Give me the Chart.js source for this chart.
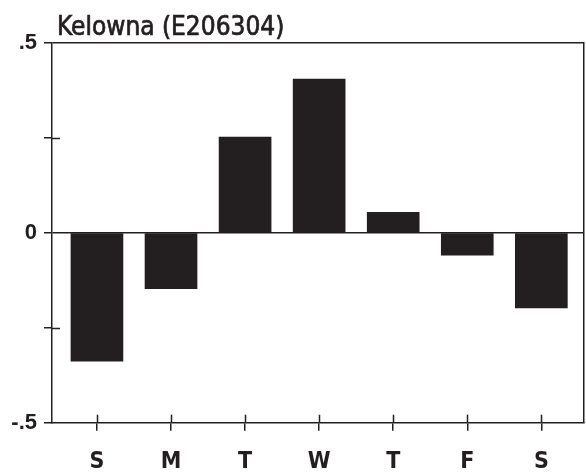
<!DOCTYPE html>
<html>
<head>
<meta charset="utf-8">
<script src="https://cdn.jsdelivr.net/npm/chart.js@4.4.1/dist/chart.umd.min.js"></script>
<style>
html,body{margin:0;padding:0;background:#fff;}
</style>
</head>
<body>
<canvas id="chart" width="586" height="476"></canvas>
<script>
// data
const chartTitle = "Kelowna (E206304)";
const days = ["S", "M", "T", "W", "T", "F", "S"];
const values = [-0.338, -0.147, 0.252, 0.405, 0.054, -0.059, -0.198];
const yTickValues = [-0.5, -0.25, 0, 0.25, 0.5];
const yTickLabels = ["-.5", "", "0", "", ".5"];

const ink = "#231f20";

// little ticks that poke into the plot, plus the title
const extras = {
  id: "extras",
  afterDraw(chart) {
    const c = chart.ctx;
    const area = chart.chartArea;
    const xs = chart.scales.x;
    const ys = chart.scales.y;
    c.save();
    c.strokeStyle = ink;
    c.lineWidth = 1.5;
    c.beginPath();
    yTickValues.forEach(function (v) {
      if (v === 0.25 || v === -0.25) {
        const py = Math.round(ys.getPixelForValue(v)) + 0.5;
        c.moveTo(area.left, py);
        c.lineTo(area.left + 8, py);
      }
    });
    days.forEach(function (d, i) {
      const px = Math.round(xs.getPixelForValue(i)) + 0.5;
      c.moveTo(px, area.bottom);
      c.lineTo(px, area.bottom - 8);
    });
    c.stroke();
    c.fillStyle = ink;
    c.font = "26px 'DejaVu Sans Condensed', 'DejaVu Sans', sans-serif";
    c.textBaseline = "alphabetic";
    c.textAlign = "left";
    c.fillText(chartTitle, 57, 35);
    // a touch heavier, like the printed title
    c.lineWidth = 0.7;
    c.strokeText(chartTitle, 57, 35);
    c.restore();
  }
};

const points = values.map(function (v, i) { return { x: i, y: v }; });

new Chart(document.getElementById("chart"), {
  type: "bar",
  data: {
    datasets: [{
      data: points,
      backgroundColor: ink,
      borderWidth: 0,
      barThickness: 52
    }]
  },
  options: {
    responsive: false,
    animation: false,
    devicePixelRatio: 1,
    layout: { padding: { top: 43, left: 0, right: 0, bottom: 0 } },
    plugins: { legend: { display: false }, tooltip: { enabled: false } },
    scales: {
      x: {
        type: "linear",
        offset: false,
        min: -0.607,
        max: 6.576,
        afterBuildTicks: function (s) {
          s.ticks = days.map(function (d, i) { return { value: i }; });
        },
        afterFit: function (s) { s.height = 53.3; },
        ticks: {
          callback: function (v) { return days[v]; },
          color: ink,
          font: { family: "'Liberation Sans Narrow', 'DejaVu Sans Condensed', sans-serif", size: 23, weight: "bold" },
          padding: 18,
          maxRotation: 0
        },
        grid: { offset: false, drawOnChartArea: false, tickLength: 8, color: ink, lineWidth: 1.5 },
        border: { color: ink, width: 1.5 }
      },
      y: {
        min: -0.5,
        max: 0.5,
        afterBuildTicks: function (s) {
          s.ticks = yTickValues.map(function (v) { return { value: v }; });
        },
        afterFit: function (s) { s.width = 52; },
        ticks: {
          callback: function (v) { return yTickLabels[yTickValues.indexOf(v)]; },
          color: ink,
          font: { family: "'Liberation Sans', Arial, sans-serif", size: 22, weight: "bold" },
          padding: 7
        },
        grid: {
          color: function (ctx) {
            const v = ctx.tick ? ctx.tick.value : null;
            return (v === 0 || v === 0.5) ? ink : "rgba(0,0,0,0)";
          },
          tickColor: ink,
          tickLength: 8,
          lineWidth: 1.5
        },
        border: { color: ink, width: 1.5 }
      },
      y2: {
        position: "right",
        display: true,
        afterFit: function (s) { s.width = 2; },
        ticks: { display: false },
        grid: { drawOnChartArea: false, drawTicks: false },
        border: { color: ink, width: 1.5 }
      }
    }
  },
  plugins: [extras]
});
</script>
</body>
</html>
